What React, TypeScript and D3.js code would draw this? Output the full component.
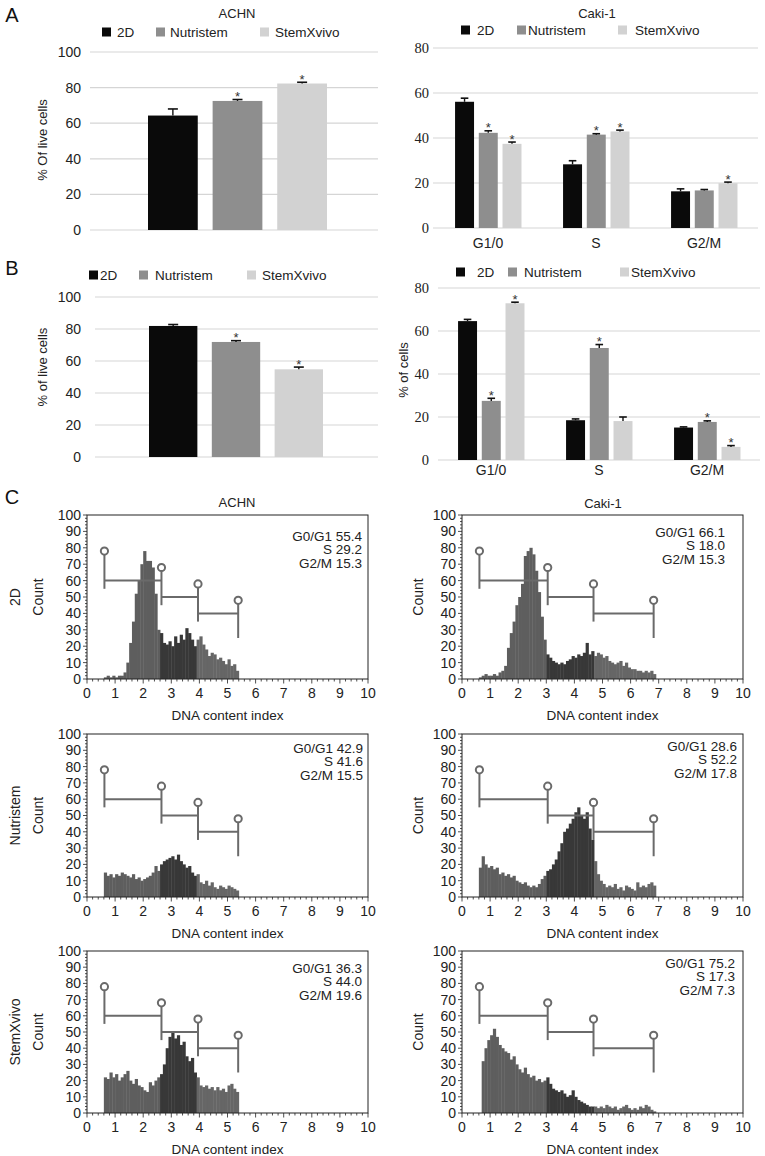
import React from "react";
import * as d3 from "d3";

const SANS = "'Liberation Sans', Arial, Helvetica, sans-serif";
const SERIF = "'Liberation Serif', 'Times New Roman', serif";

// ---------- Shared categories ----------
const seriesNames = ["2D", "Nutristem", "StemXvivo"];
const seriesColors = ["#0a0a0a", "#8e8e8e", "#d2d2d2"];
const phaseNames = ["G1/0", "S", "G2/M"];

// ---------- Panel A ----------
const achnLiveA = [64.3, 72.5, 82.3];
const achnLiveAErr = [3.7, 0.8, 0.7];
const achnLiveASig = [0, 1, 1];

// rows = phases, cols = series
const cakiCycleA = [[56.1, 42.3, 37.4], [28.3, 41.5, 42.9], [16.3, 16.7, 19.9]];
const cakiCycleAErr = [[1.6, 0.9, 0.8], [1.6, 0.4, 0.6], [1.1, 0.4, 0.5]];
const cakiCycleASig = [[0, 1, 1], [0, 1, 1], [0, 0, 1]];

// ---------- Panel B ----------
const liveB = [81.9, 71.9, 54.8];
const liveBErr = [0.9, 0.8, 1.4];
const liveBSig = [0, 1, 1];

const cycleB = [[64.6, 27.5, 72.9], [18.5, 52.1, 18.1], [15.1, 17.7, 6.1]];
const cycleBErr = [[0.8, 1.2, 0.5], [0.6, 1.6, 1.9], [0.3, 0.5, 0.6]];
const cycleBSig = [[0, 1, 1], [0, 1, 0], [0, 1, 1]];

const ticks100 = [0, 20, 40, 60, 80, 100];
const ticks80 = [0, 20, 40, 60, 80];

// ---------- Panel C (histograms, bins of 0.1 DNA index) ----------
const BIN = 0.1;
const achnStart = [0.6, 0.6, 0.6];
const cakiStart = [0.6, 0.6, 0.7];

const achn2DCounts = [
  1, 2, 1, 2, 1, 2, 2, 4, 10, 22, 35, 52, 60, 70, 78, 72, 72, 68, 52, 30,
  28, 22, 21, 23, 20, 26, 22, 27, 24, 31, 28, 24, 20, 24,
  26, 21, 18, 14, 16, 15, 12, 13, 11, 9, 12, 8, 9, 5,
];
const achnNutriCounts = [
  15, 13, 14, 12, 14, 13, 15, 14, 13, 12, 14, 11, 12, 10, 11, 12, 13, 15, 19, 16,
  20, 22, 23, 24, 25, 23, 26, 22, 20, 18, 19, 15, 13, 14,
  9, 8, 10, 7, 9, 6, 5, 7, 6, 5, 7, 6, 5, 4,
];
const achnStemCounts = [
  22, 21, 25, 22, 24, 20, 22, 24, 26, 20, 18, 21, 17, 16, 14, 13, 19, 17, 20, 22,
  24, 30, 40, 47, 50, 46, 48, 42, 44, 35, 32, 34, 25, 22,
  17, 16, 17, 15, 16, 14, 16, 14, 15, 13, 17, 18, 15, 13,
];
const caki2DCounts = [
  1, 2, 3, 2, 2, 3, 2, 4, 5, 8, 19, 28, 35, 45, 50, 58, 75, 78, 80, 76, 66, 53, 38, 24, 15,
  13, 11, 10, 9, 10, 9, 11, 12, 14, 13, 15, 14, 16, 22, 15, 17,
  14, 16, 15, 13, 14, 11, 10, 9, 10, 11, 8, 10, 7, 6, 6, 5, 5, 4, 5, 4, 5, 3,
];
const cakiNutriCounts = [
  18, 25, 20, 18, 19, 17, 18, 14, 15, 13, 14, 12, 13, 10, 9, 8, 9, 7, 6, 7, 6, 8, 11, 13, 16,
  17, 20, 23, 28, 33, 40, 42, 45, 48, 52, 55, 50, 48, 52, 42, 35,
  22, 14, 10, 8, 6, 7, 6, 8, 5, 6, 4, 7, 6, 5, 4, 9, 6, 7, 6, 8, 9, 7,
];
const cakiStemCounts = [
  32, 40, 45, 48, 52, 47, 42, 40, 38, 37, 33, 35, 30, 27, 25, 28, 24, 22, 23, 20, 21, 19, 20, 22,
  18, 15, 14, 13, 14, 12, 10, 11, 14, 10, 8, 7, 6, 5, 4, 4,
  4, 3, 4, 3, 5, 4, 3, 4, 2, 3, 4, 5, 3, 2, 3, 2, 4, 3, 5, 4, 2, 1,
];

const achnGates = [0.62, 2.65, 3.95, 5.38];
const cakiGates = [0.62, 3.05, 4.68, 6.82];

const phaseLabels = ["G0/G1", "S", "G2/M"];
const achnPct = [[55.4, 29.2, 15.3], [42.9, 41.6, 15.5], [36.3, 44.0, 19.6]];
const cakiPct = [[66.1, 18.0, 15.3], [28.6, 52.2, 17.8], [75.2, 17.3, 7.3]];
const conditionNames = ["2D", "Nutristem", "StemXvivo"];

const histTicksX = d3.range(0, 11);
const histTicksY = d3.range(0, 11).map((i) => i * 10);

// ---------- Styling constants ----------
const GRID = "#d5d5d5";
const HIST_COLORS = ["#5e5e5e", "#383838", "#666666"];
const GATE = "#6a6a6a";
const GATE_TOPS = [78, 68, 58, 48];
const GATE_LEVELS = [60, 50, 40];

function Legend({ y, squareX, textX }: { y: number; squareX: number[]; textX: number[] }) {
  return (
    <g>
      {seriesNames.map((s, i) => (
        <g key={s}>
          <rect x={squareX[i]} y={y - 4.5} width={9} height={9} fill={seriesColors[i]} />
          <text x={textX[i]} y={y} dy="0.35em" fontSize={13.5} fill="#222">
            {s}
          </text>
        </g>
      ))}
    </g>
  );
}

function ErrBar({ cx, yBar, yTop, half, sig }: any) {
  return (
    <g>
      <line x1={cx} x2={cx} y1={yBar} y2={yTop} stroke="#111" strokeWidth={1.4} />
      <line x1={cx - half} x2={cx + half} y1={yTop} y2={yTop} stroke="#111" strokeWidth={1.6} />
      {sig ? (
        <text x={cx} y={yTop + 1.5} textAnchor="middle" fontSize={13} fill="#333">
          *
        </text>
      ) : null}
    </g>
  );
}

function SimpleBars({ values, errs, sig, yZero, yTop, gridX0, gridX1, barX0, barX1, tickX }: any) {
  const y = d3.scaleLinear().domain([0, 100]).range([yZero, yTop]);
  const x = d3.scaleBand<string>().domain(seriesNames).range([barX0, barX1]).paddingInner(0.23);
  return (
    <g>
      {ticks100.map((t) => (
        <g key={t}>
          <line x1={gridX0} x2={gridX1} y1={y(t)} y2={y(t)} stroke={GRID} strokeWidth={1.2} />
          <text x={tickX} y={y(t)} dy="0.35em" textAnchor="end" fontSize={14} fill="#222">
            {t}
          </text>
        </g>
      ))}
      {values.map((v: number, i: number) => {
        const bx = x(seriesNames[i]) as number;
        const bw = x.bandwidth();
        return (
          <g key={i}>
            <rect x={bx} y={y(v)} width={bw} height={y(0) - y(v)} fill={seriesColors[i]} />
            <ErrBar cx={bx + bw / 2} yBar={y(v)} yTop={y(v + errs[i])} half={5} sig={sig[i]} />
          </g>
        );
      })}
    </g>
  );
}

function GroupedBars({ values, errs, sig, yZero, yTop, gridX0, gridX1, outerX0, outerX1, tickX, catY }: any) {
  const y = d3.scaleLinear().domain([0, 80]).range([yZero, yTop]);
  const xo = d3.scaleBand<string>().domain(phaseNames).range([outerX0, outerX1]);
  const bwo = xo.bandwidth();
  const xi = d3.scaleBand<string>().domain(seriesNames).range([bwo * 0.195, bwo * 0.81]).paddingInner(0.2);
  return (
    <g>
      {ticks80.map((t) => (
        <g key={t}>
          <line x1={gridX0} x2={gridX1} y1={y(t)} y2={y(t)} stroke={GRID} strokeWidth={1.2} />
          <text x={tickX} y={y(t)} dy="0.35em" textAnchor="end" fontSize={14.5} fontFamily={SERIF} fill="#222">
            {t}
          </text>
        </g>
      ))}
      {phaseNames.map((p, pi) => (
        <g key={p} transform={`translate(${xo(p)},0)`}>
          {seriesNames.map((s, si) => {
            const v = values[pi][si];
            const bx = xi(s) as number;
            const bw = xi.bandwidth();
            return (
              <g key={s}>
                <rect x={bx} y={y(v)} width={bw} height={y(0) - y(v)} fill={seriesColors[si]} />
                <ErrBar cx={bx + bw / 2} yBar={y(v)} yTop={y(v + errs[pi][si])} half={3.8} sig={sig[pi][si]} />
              </g>
            );
          })}
          <text x={bwo / 2} y={catY} dy="0.35em" textAnchor="middle" fontSize={14} fill="#222">
            {p}
          </text>
        </g>
      ))}
    </g>
  );
}

function Histogram({ left, right, top, zero, counts, start, gates, pct, pctRight, pctTop }: any) {
  const x = d3.scaleLinear().domain([0, 10]).range([left, right]);
  const y = d3.scaleLinear().domain([0, 100]).range([zero, top]);
  const minorX = d3.range(0, 51).map((i) => i / 5);
  const minorY = d3.range(0, 51).map((i) => i * 2);
  return (
    <g>
      {counts.map((c: number, i: number) => {
        const a = start + i * BIN;
        const b = a + BIN;
        const mid = (a + b) / 2;
        const fill = mid < gates[1] ? HIST_COLORS[0] : mid < gates[2] ? HIST_COLORS[1] : HIST_COLORS[2];
        return <rect key={i} x={x(a)} y={y(c)} width={x(b) - x(a) + 0.4} height={zero - y(c)} fill={fill} />;
      })}
      <rect x={left} y={top} width={right - left} height={zero - top} fill="none" stroke="#222" strokeWidth={1} />
      {minorY.map((t) => (
        <line key={"my" + t} x1={left} x2={left - (t % 10 === 0 ? 4 : 2)} y1={y(t)} y2={y(t)} stroke="#222" strokeWidth={0.8} />
      ))}
      {minorX.map((t) => (
        <line key={"mx" + t} x1={x(t)} x2={x(t)} y1={zero} y2={zero + (Math.abs(t - Math.round(t)) < 1e-6 ? 4.5 : 2.5)} stroke="#222" strokeWidth={0.8} />
      ))}
      {histTicksY.map((t) => (
        <text key={"ty" + t} x={left - 6} y={y(t)} dy="0.35em" textAnchor="end" fontSize={14} fill="#222">
          {t}
        </text>
      ))}
      {histTicksX.map((t) => (
        <text key={"tx" + t} x={x(t)} y={zero + 14} dy="0.35em" textAnchor="middle" fontSize={14} fill="#222">
          {t}
        </text>
      ))}
      <text x={(left + right) / 2} y={zero + 36} dy="0.35em" textAnchor="middle" fontSize={13.5} fill="#222">
        DNA content index
      </text>
      {gates.map((g: number, i: number) => (
        <g key={"g" + i}>
          <line x1={x(g)} x2={x(g)} y1={y(GATE_TOPS[i]) + 3} y2={y(GATE_TOPS[i] - 23)} stroke={GATE} strokeWidth={2} />
          {i < 3 ? (
            <line x1={x(g)} x2={x(gates[i + 1])} y1={y(GATE_LEVELS[i])} y2={y(GATE_LEVELS[i])} stroke={GATE} strokeWidth={2} />
          ) : null}
        </g>
      ))}
      {gates.map((g: number, i: number) => (
        <circle key={"c" + i} cx={x(g)} cy={y(GATE_TOPS[i])} r={3.6} fill="#fff" stroke={GATE} strokeWidth={2} />
      ))}
      {pct.map((v: number, i: number) => (
        <text key={"p" + i} x={pctRight} y={top + pctTop + i * 13.5} dy="0.35em" textAnchor="end" fontSize={13.5} fill="#222">
          {`${phaseLabels[i]} ${v.toFixed(1)}`}
        </text>
      ))}
    </g>
  );
}

export default function App() {
  const rowTops = [515, 734, 951];
  const rowZeros = [679, 897, 1113];
  const achnCounts = [achn2DCounts, achnNutriCounts, achnStemCounts];
  const cakiCounts = [caki2DCounts, cakiNutriCounts, cakiStemCounts];
  const achnPctRight = [362, 363, 362];
  const cakiPctRight = [725, 737, 735];
  const achnPctTop = [21, 14, 17];
  const cakiPctTop = [17, 12, 12];
  return (
    <svg
      width={765}
      height={1156}
      viewBox="0 0 765 1156"
      style={{ position: "absolute", left: 0, top: 0, display: "block" }}
      fontFamily={SANS}
    >
      <rect width={765} height={1156} fill="#fff" />

      {/* Panel A */}
      <text x={12} y={15} dy="0.35em" textAnchor="middle" fontSize={20} fill="#111">A</text>
      <text x={237} y={13} dy="0.35em" textAnchor="middle" fontSize={13} fill="#222">ACHN</text>
      <Legend y={32} squareX={[102, 156, 260]} textX={[117, 170, 275]} />
      <text transform="translate(42,140) rotate(-90)" dy="0.35em" textAnchor="middle" fontSize={13} fill="#222">
        % Of live cells
      </text>
      <SimpleBars values={achnLiveA} errs={achnLiveAErr} sig={achnLiveASig} yZero={230} yTop={52}
        gridX0={90} gridX1={378} barX0={148} barX1={327} tickX={81} />

      <text x={597} y={13} dy="0.35em" textAnchor="middle" fontSize={13} fill="#222">Caki-1</text>
      <Legend y={30} squareX={[461, 517, 618]} textX={[477, 528, 635]} />
      <GroupedBars values={cakiCycleA} errs={cakiCycleAErr} sig={cakiCycleASig} yZero={228} yTop={48}
        gridX0={433} gridX1={758} outerX0={434} outerX1={758} tickX={429} catY={243} />

      {/* Panel B */}
      <text x={12} y={268} dy="0.35em" textAnchor="middle" fontSize={20} fill="#111">B</text>
      <Legend y={275} squareX={[89, 139, 247]} textX={[100, 155, 262]} />
      <text transform="translate(42,367) rotate(-90)" dy="0.35em" textAnchor="middle" fontSize={13} fill="#222">
        % of live cells
      </text>
      <SimpleBars values={liveB} errs={liveBErr} sig={liveBSig} yZero={457} yTop={297}
        gridX0={95} gridX1={378} barX0={149} barX1={323} tickX={81} />

      <Legend y={272} squareX={[456, 508, 620]} textX={[477, 524, 631]} />
      <text transform="translate(403,370) rotate(-90)" dy="0.35em" textAnchor="middle" fontSize={13} fill="#222">
        % of cells
      </text>
      <GroupedBars values={cycleB} errs={cycleBErr} sig={cycleBSig} yZero={460} yTop={288}
        gridX0={438} gridX1={760} outerX0={437} outerX1={761} tickX={429} catY={470} />

      {/* Panel C */}
      <text x={12} y={497} dy="0.35em" textAnchor="middle" fontSize={20} fill="#111">C</text>
      <text x={237} y={502} dy="0.35em" textAnchor="middle" fontSize={13} fill="#222">ACHN</text>
      <text x={603} y={503} dy="0.35em" textAnchor="middle" fontSize={13} fill="#222">Caki-1</text>
      {rowTops.map((top, r) => {
        const zero = rowZeros[r];
        const mid = (top + zero) / 2;
        return (
          <g key={r}>
            <text transform={`translate(15,${mid}) rotate(-90)`} dy="0.35em" textAnchor="middle" fontSize={14} fill="#222">
              {conditionNames[r]}
            </text>
            <text transform={`translate(38,${mid}) rotate(-90)`} dy="0.35em" textAnchor="middle" fontSize={14} fill="#222">
              Count
            </text>
            <text transform={`translate(418,${mid}) rotate(-90)`} dy="0.35em" textAnchor="middle" fontSize={14} fill="#222">
              Count
            </text>
            <Histogram left={87} right={368} top={top} zero={zero} counts={achnCounts[r]} start={achnStart[r]}
              gates={achnGates} pct={achnPct[r]} pctRight={achnPctRight[r]} pctTop={achnPctTop[r]} />
            <Histogram left={462} right={743} top={top} zero={zero} counts={cakiCounts[r]} start={cakiStart[r]}
              gates={cakiGates} pct={cakiPct[r]} pctRight={cakiPctRight[r]} pctTop={cakiPctTop[r]} />
          </g>
        );
      })}
    </svg>
  );
}
